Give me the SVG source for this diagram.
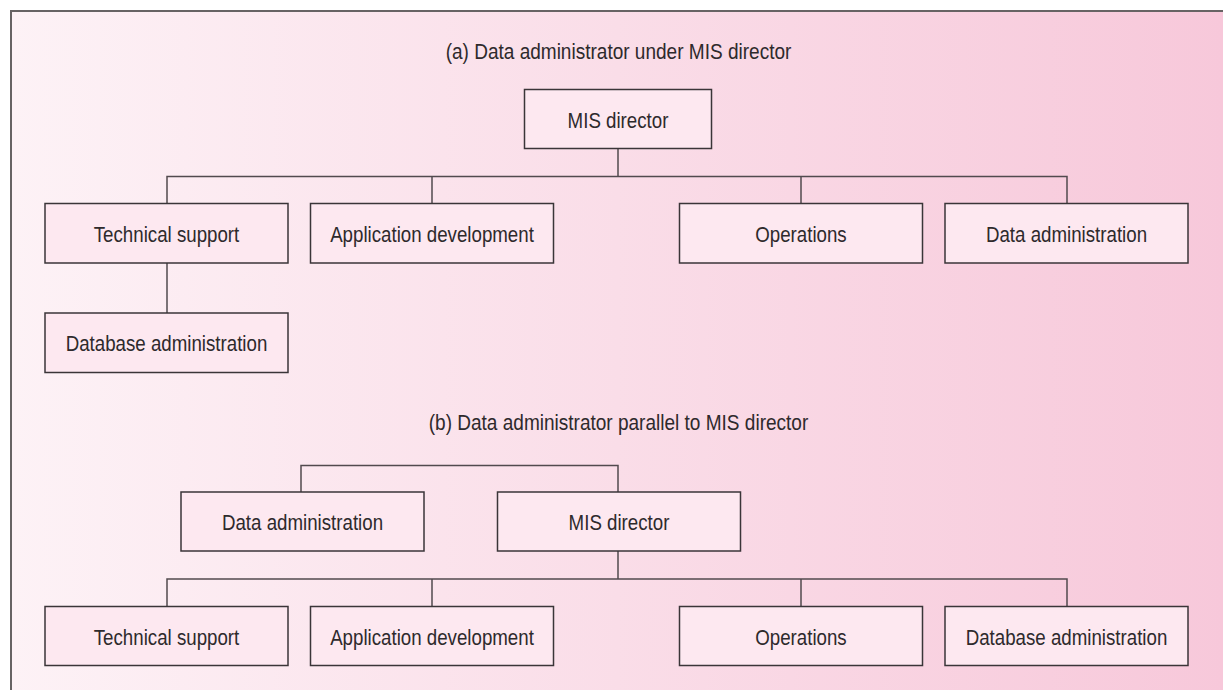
<svg xmlns="http://www.w3.org/2000/svg" width="1223" height="690" viewBox="0 0 1223 690">
  <defs>
    <linearGradient id="bg" x1="0" y1="0" x2="1" y2="0">
      <stop offset="0" stop-color="#fdf2f6"/>
      <stop offset="0.5" stop-color="#fadde8"/>
      <stop offset="1" stop-color="#f7c8da"/>
    </linearGradient>
    <style>
      .box rect { fill: #fde8f0; stroke: #3a3538; stroke-width: 1.5; }
      .box text, .title { font-family: "Liberation Sans", Arial, sans-serif; font-size: 21.5px; fill: #2e2a2c; text-anchor: middle; }
      #connectors path { fill: none; stroke: #514a4e; stroke-width: 1.5; }
      .frame { fill: none; stroke: #676364; stroke-width: 2; }
    </style>
  </defs>

  <!-- page background and frame -->
  <rect x="0" y="0" width="1223" height="690" fill="#ffffff"/>
  <rect x="11" y="11" width="1212" height="679" fill="url(#bg)"/>
  <path class="frame" d="M11,690 V11 H1223"/>

  <!-- section titles (condensed horizontally) -->
  <text class="title" transform="translate(618.5 59) scale(0.885 1)">(a) Data administrator under MIS director</text>
  <text class="title" transform="translate(618.5 429.5) scale(0.885 1)">(b) Data administrator parallel to MIS director</text>

  <g id="connectors">
    <!-- (a) -->
    <path d="M618,148.5 V176.5"/>
    <path d="M167,203.5 V176.5 H1067 V203.5"/>
    <path d="M432,176.5 V203.5"/>
    <path d="M801,176.5 V203.5"/>
    <path d="M167,263 V313"/>
    <!-- (b) -->
    <path d="M301,492 V465.5 H618 V492"/>
    <path d="M618,551 V579"/>
    <path d="M167,606.5 V579 H1067 V606.5"/>
    <path d="M432,579 V606.5"/>
    <path d="M801,579 V606.5"/>
  </g>

  <!-- (a) Data administrator under MIS director -->
  <g id="a-mis-director" class="box">
    <rect x="524.5" y="89.5" width="187" height="59"/>
    <text transform="translate(618 127.5) scale(0.87 1)">MIS director</text>
  </g>
  <g id="a-technical-support" class="box">
    <rect x="45" y="203.5" width="243" height="59.5"/>
    <text transform="translate(166.5 241.7) scale(0.87 1)">Technical support</text>
  </g>
  <g id="a-application-development" class="box">
    <rect x="310.5" y="203.5" width="243" height="59.5"/>
    <text transform="translate(432 241.7) scale(0.87 1)">Application development</text>
  </g>
  <g id="a-operations" class="box">
    <rect x="679.5" y="203.5" width="243" height="59.5"/>
    <text transform="translate(801 241.7) scale(0.87 1)">Operations</text>
  </g>
  <g id="a-data-administration" class="box">
    <rect x="945" y="203.5" width="243" height="59.5"/>
    <text transform="translate(1066.5 241.7) scale(0.87 1)">Data administration</text>
  </g>
  <g id="a-database-administration" class="box">
    <rect x="45" y="313" width="243" height="59.5"/>
    <text transform="translate(166.5 351.2) scale(0.87 1)">Database administration</text>
  </g>

  <!-- (b) Data administrator parallel to MIS director -->
  <g id="b-data-administration" class="box">
    <rect x="181" y="492" width="243" height="59"/>
    <text transform="translate(302.5 529.8) scale(0.87 1)">Data administration</text>
  </g>
  <g id="b-mis-director" class="box">
    <rect x="497.5" y="492" width="243" height="59"/>
    <text transform="translate(619 529.8) scale(0.87 1)">MIS director</text>
  </g>
  <g id="b-technical-support" class="box">
    <rect x="45" y="606.5" width="243" height="59"/>
    <text transform="translate(166.5 644.5) scale(0.87 1)">Technical support</text>
  </g>
  <g id="b-application-development" class="box">
    <rect x="310.5" y="606.5" width="243" height="59"/>
    <text transform="translate(432 644.5) scale(0.87 1)">Application development</text>
  </g>
  <g id="b-operations" class="box">
    <rect x="679.5" y="606.5" width="243" height="59"/>
    <text transform="translate(801 644.5) scale(0.87 1)">Operations</text>
  </g>
  <g id="b-database-administration" class="box">
    <rect x="945" y="606.5" width="243" height="59"/>
    <text transform="translate(1066.5 644.5) scale(0.87 1)">Database administration</text>
  </g>
</svg>
